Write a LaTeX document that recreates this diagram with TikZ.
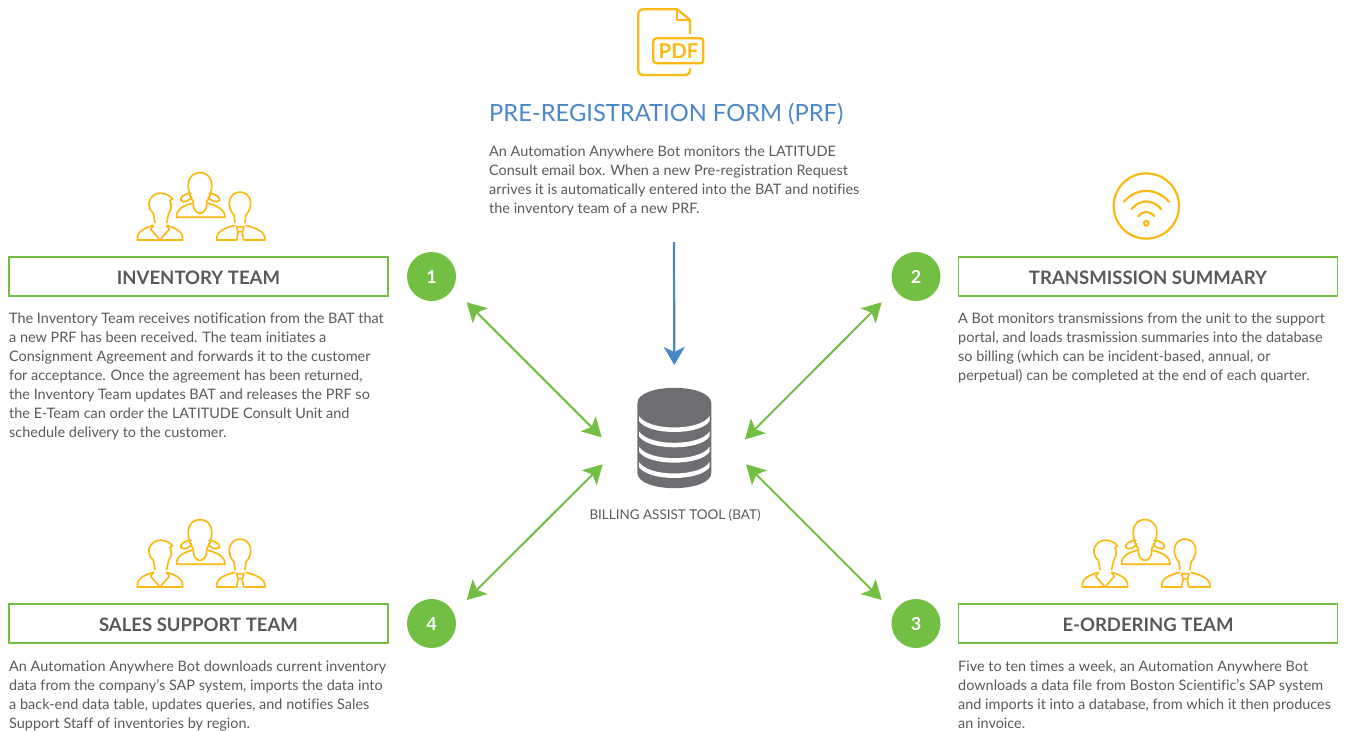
\documentclass[tikz,border=0pt]{standalone}
\usepackage{fontspec}
\setmainfont[Ligatures=NoCommon]{Lato}
\usetikzlibrary{arrows.meta}
\definecolor{gold}{HTML}{FDB913}
\definecolor{leaf}{HTML}{72BF44}
\definecolor{sky}{HTML}{4A86C8}
\definecolor{ink}{HTML}{58595B}
\definecolor{dbgray}{HTML}{6D6E71}
\tikzset{
  x=1bp,y=-1bp,
  body/.style={font=\fontsize{14.5}{19}\selectfont,text=ink,align=left,anchor=north west,inner sep=0pt},
  titlebox/.style={draw=leaf,line width=1.3bp,minimum width=379bp,minimum height=39bp,inner sep=0pt,text depth=0pt,text height=15.2bp,font=\fontsize{18.6}{20}\selectfont\bfseries,text=ink},
  badge/.style={circle,fill=leaf,minimum size=49bp,inner sep=0pt,text depth=0pt,text height=14.5bp,text=white,font=\fontsize{18}{20}\selectfont\bfseries},
  bi/.style={draw=leaf,line width=2bp,{Stealth[length=19bp,width=21bp,inset=4.5bp]}-{Stealth[length=19bp,width=21bp,inset=4.5bp]}},
  down/.style={draw=sky,line width=2.2bp,-{Stealth[length=18bp,width=21bp,inset=5bp]}},
  icon/.style={draw=gold,line width=1.7bp,line cap=round,line join=round,fill=none},
  stripe/.style={fill=white,draw=none},
  team/.pic={
    \begin{scope}[x=0.3333bp,y=-0.3333bp]
      % left man
      \draw[icon] (105,188) -- (100,160) -- (91,150) .. controls (84,130) and (86,122) .. (95,112) .. controls (105,98) and (135,92) .. (158,116) -- (150,122) .. controls (155,135) and (156,145) .. (146,160) -- (140,188);
      \draw[icon] (100,196) .. controls (70,205) and (50,215) .. (52,240) -- (188,240) .. controls (190,215) and (170,205) .. (140,196);
      \draw[icon] (100,196) -- (92,208) -- (120,240) -- (148,208) -- (140,196);
      % centre woman
      \draw[icon] (220,125) .. controls (205,105) and (200,70) .. (210,55) .. controls (222,32) and (258,32) .. (270,55) .. controls (280,70) and (275,105) .. (260,125) .. controls (262,150) and (250,160) .. (240,160) .. controls (230,160) and (218,150) .. (220,125);
      \draw[icon] (213,100) .. controls (195,100) and (178,112) .. (183,122) .. controls (190,130) and (212,122) .. (215,110);
      \draw[icon] (267,100) .. controls (285,100) and (302,112) .. (298,122) .. controls (290,130) and (268,122) .. (265,110);
      \draw[icon] (216,130) .. controls (185,138) and (168,150) .. (170,172) -- (315,172) .. controls (315,150) and (295,138) .. (264,130);
      % right man
      \draw[icon] (345,188) -- (342,165) .. controls (332,155) and (328,140) .. (328,130) .. controls (328,85) and (392,85) .. (392,130) .. controls (392,140) and (388,155) .. (378,165) -- (375,188);
      \draw[icon] (345,196) .. controls (310,205) and (288,215) .. (290,240) -- (348,240);
      \draw[icon] (378,196) .. controls (410,205) and (437,215) .. (435,240) -- (374,240);
      \draw[icon] (350,200) -- (372,200) -- (368,215) -- (354,215) -- cycle;
      \draw[icon] (354,218) -- (350,240);
      \draw[icon] (367,218) -- (371,240);
    \end{scope}
  },
}
\begin{document}
\begin{tikzpicture}
\useasboundingbox (0,0) rectangle (1347,730);

% PDF icon
\begin{scope}[shift={(620,0)},x=0.3333bp,y=-0.3333bp]
  \draw[icon,line width=2.3bp] (210,100) -- (210,60) -- (172,28) -- (68,28) .. controls (60,28) and (55,33) .. (55,41) -- (55,212) .. controls (55,220) and (60,225) .. (68,225) -- (197,225) .. controls (205,225) and (210,220) .. (210,212) -- (210,207);
  \draw[icon,line width=2.3bp] (172,28) -- (172,60) -- (210,60);
  \draw[icon,line width=2.3bp,rounded corners=3bp] (100,115) rectangle (250,190);
\end{scope}
\node[text=gold,font=\fontsize{20.5}{22}\selectfont\bfseries,inner sep=0pt] (pdftext) at (678.5,51) {PDF};

\node[anchor=north west,inner sep=0pt,text=sky,font=\fontsize{23.8}{26}\selectfont] (prf) at (489,102.5) {PRE-REGISTRATION FORM (PRF)};
\node[body] (prftext) at (489,146) {An Automation Anywhere Bot monitors the LATITUDE\\Consult email box. When a new Pre-registration Request\\arrives it is automatically entered into the BAT and notifies\\the inventory team of a new PRF.};

% database
\begin{scope}[shift={(580,340)},x=0.3333bp,y=-0.3333bp]
  \fill[dbgray] (172,190) .. controls (172,128) and (394,128) .. (394,190) -- (394,398) .. controls (394,460) and (172,460) .. (172,398) -- cycle;
  \foreach \d in {0,46,92,138}{
    \fill[stripe] (177,{228+\d}) .. controls (205,{274+\d}) and (361,{274+\d}) .. (389,{228+\d}) -- (389,{243+\d}) .. controls (361,{287+\d}) and (205,{287+\d}) .. (177,{243+\d}) -- cycle;
  }
\end{scope}
\node[inner sep=0pt,text=ink,font=\fontsize{13.5}{16}\selectfont] (bat) at (675,515) {BILLING ASSIST TOOL (BAT)};

% connectors' free ends
\coordinate (prfend) at (674,242);
\coordinate (dbtop) at (674.3,365);
\coordinate (dbnw) at (601.7,437.3);
\coordinate (dbne) at (745,439.3);
\coordinate (dbse) at (746,464.3);
\coordinate (dbsw) at (602.7,464.3);
\coordinate (o1) at (466.7,302.3);
\coordinate (o2) at (881.7,302.3);
\coordinate (o3) at (881.7,600);
\coordinate (o4) at (466.7,600);
\draw[down] (prfend) -- (dbtop);

% teams
\pic at (120,160) {team};
\pic at (120,507) {team};
\pic at (1065,507) {team};

% wifi
\begin{scope}[shift={(1100,170)},x=0.3333bp,y=-0.3333bp]
  \draw[icon,line width=2.2bp] (139,108) circle [radius=98];
  \draw[icon,line width=2.2bp] (72,95) .. controls (110,52) and (168,52) .. (207,95);
  \draw[icon,line width=2.2bp] (95,117) .. controls (120,87) and (158,87) .. (183,117);
  \draw[icon,line width=2.2bp] (115,138) .. controls (128,122) and (150,122) .. (163,138);
  \draw[icon,line width=2.2bp] (139,160) circle [radius=7];
\end{scope}

% title boxes
\node[titlebox] (t1) at (198.5,276.5) {INVENTORY TEAM};
\node[titlebox] (t2) at (1148,276.5) {TRANSMISSION SUMMARY};
\node[titlebox] (t3) at (1148,623.5) {E-ORDERING TEAM};
\node[titlebox] (t4) at (198.5,623.5) {SALES SUPPORT TEAM};

% badges
\node[badge] (n1) at (431.5,276.5) {1};
\node[badge] (n2) at (916,276.5) {2};
\node[badge] (n3) at (916,623.5) {3};
\node[badge] (n4) at (431.5,623.5) {4};

\draw[bi] (o1) -- (dbnw);
\draw[bi] (o2) -- (dbne);
\draw[bi] (o3) -- (dbse);
\draw[bi] (o4) -- (dbsw);

% body texts
\node[body] (b1) at (9,313) {The Inventory Team receives notification from the BAT that\\a new PRF has been received. The team initiates a\\Consignment Agreement and forwards it to the customer\\for acceptance. Once the agreement has been returned,\\the Inventory Team updates BAT and releases the PRF so\\the E-Team can order the LATITUDE Consult Unit and\\schedule delivery to the customer.};
\node[body] (b2) at (958,313) {A Bot monitors transmissions from the unit to the support\\portal, and loads trasmission summaries into the database\\so billing (which can be incident-based, annual, or\\perpetual) can be completed at the end of each quarter.};
\node[body] (b3) at (958,661) {Five to ten times a week, an Automation Anywhere Bot\\downloads a data file from Boston Scientific’s SAP system\\and imports it into a database, from which it then produces\\an invoice.};
\node[body] (b4) at (9,661) {An Automation Anywhere Bot downloads current inventory\\data from the company’s SAP system, imports the data into\\a back-end data table, updates queries, and notifies Sales\\Support Staff of inventories by region.};
\end{tikzpicture}
\end{document}
